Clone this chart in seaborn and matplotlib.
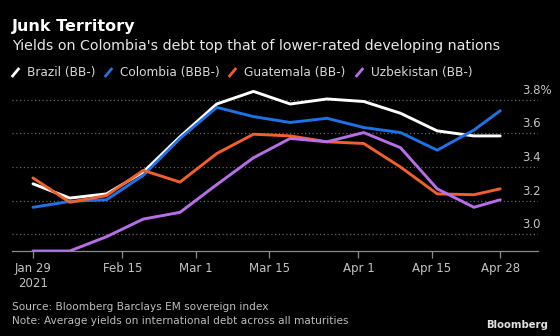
import matplotlib
matplotlib.use("Agg")
import matplotlib.pyplot as plt
from matplotlib.lines import Line2D
from matplotlib.transforms import ScaledTranslation
import seaborn as sns
import pandas as pd

dates = ["2021-01-29", "2021-02-05", "2021-02-12", "2021-02-19", "2021-02-26",
         "2021-03-05", "2021-03-12", "2021-03-19", "2021-03-26", "2021-04-02",
         "2021-04-09", "2021-04-16", "2021-04-23", "2021-04-28"]
brazil = [3.30, 3.215, 3.24, 3.37, 3.58, 3.775, 3.85, 3.775, 3.805, 3.79, 3.72, 3.615, 3.585, 3.585]
colombia = [3.16, 3.195, 3.205, 3.35, 3.57, 3.755, 3.70, 3.665, 3.69, 3.635, 3.605, 3.50, 3.62, 3.735]
guatemala = [3.335, 3.19, 3.23, 3.38, 3.31, 3.48, 3.595, 3.585, 3.55, 3.54, 3.40, 3.24, 3.235, 3.27]
uzbekistan = [2.90, 2.90, 2.985, 3.09, 3.13, 3.295, 3.455, 3.57, 3.55, 3.605, 3.515, 3.27, 3.16, 3.205]
series_names = ["Brazil (BB-)", "Colombia (BBB-)", "Guatemala (BB-)", "Uzbekistan (BB-)"]
colors = ["#ffffff", "#1f72e6", "#f0602c", "#b86ee8"]
xtick_dates = ["2021-01-29", "2021-02-15", "2021-03-01", "2021-03-15", "2021-04-01", "2021-04-15", "2021-04-28"]
xtick_labels = ["Jan 29\n2021", "Feb 15", "Mar 1", "Mar 15", "Apr 1", "Apr 15", "Apr 28"]
ytick_values = [3.0, 3.2, 3.4, 3.6, 3.8]
ytick_labels = ["3.0", "3.2", "3.4", "3.6", "3.8%"]

frames = []
for name, vals in zip(series_names, [brazil, colombia, guatemala, uzbekistan]):
    frames.append(pd.DataFrame({"date": pd.to_datetime(dates), "value": vals, "country": name}))
df = pd.concat(frames, ignore_index=True)
palette = dict(zip(series_names, colors))

sns.set_style("dark")
plt.rcParams["font.family"] = ["DejaVu Sans"]

W, H = 560, 336
fig = plt.figure(figsize=(W / 100, H / 100), dpi=100, facecolor="black")
ax = fig.add_axes([12 / W, 1 - 251 / H, 526 / W, (251 - 83) / H])
ax.set_facecolor("black")

sns.lineplot(data=df, x="date", y="value", hue="country", hue_order=series_names,
             palette=palette, legend=False, linewidth=2.1, ax=ax)

ax.set_xlim(pd.Timestamp("2021-01-29") - pd.Timedelta(days=4.0),
            pd.Timestamp("2021-04-28") + pd.Timedelta(days=7.2))
ax.set_ylim(2.9, 3.9)
ax.set_xlabel("")
ax.set_ylabel("")

ax.set_xticks(pd.to_datetime(xtick_dates))
ax.set_xticklabels(xtick_labels)
ax.set_yticks(ytick_values)
ax.set_yticklabels(ytick_labels)

ax.grid(False)
ax.yaxis.grid(True, color="#666666", linestyle=(0, (1, 2)), linewidth=0.9)
for s in ["top", "left", "right"]:
    ax.spines[s].set_visible(False)
ax.spines["bottom"].set_color("#8a8a8a")
ax.spines["bottom"].set_linewidth(0.9)

ax.tick_params(axis="x", length=5, width=0.9, color="#8a8a8a", labelcolor="#c4c4c4",
               labelsize=8.5, pad=3, bottom=True)
ax.tick_params(axis="y", length=0, labelleft=False, labelright=True, labelcolor="#c4c4c4",
               labelsize=8.5, pad=0)
offset = ScaledTranslation(-16 / 100, 11 / 100, fig.dpi_scale_trans)
for lab in ax.get_yticklabels():
    lab.set_transform(lab.get_transform() + offset)
    lab.set_horizontalalignment("left")

fig.text(12 / W, 1 - 27 / H, "Junk Territory", color="white", fontsize=11.5,
         fontweight="bold", va="center", ha="left")
fig.text(12 / W, 1 - 46 / H, "Yields on Colombia's debt top that of lower-rated developing nations",
         color="#e8e8e8", fontsize=10.3, va="center", ha="left")

handles = [Line2D([], [], color=c, linestyle="None", marker=[(-1, -1.2), (1, 1.2)],
                  markersize=6.5, markeredgewidth=2, markeredgecolor=c) for c in colors]
fig.legend(handles, series_names, loc="center left", bbox_to_anchor=(11 / W, 1 - 72.5 / H),
           ncol=4, frameon=False, handlelength=0.6, handletextpad=0.7, columnspacing=0.75,
           fontsize=8.7, labelcolor="#d8d8d8", borderaxespad=0, borderpad=0)

fig.text(12 / W, 1 - 307.5 / H, "Source: Bloomberg Barclays EM sovereign index",
         color="#bdbdbd", fontsize=7.6, va="center", ha="left")
fig.text(12 / W, 1 - 320.5 / H, "Note: Average yields on international debt across all maturities",
         color="#bdbdbd", fontsize=7.6, va="center", ha="left")
fig.text(548 / W, 1 - 325.5 / H, "Bloomberg", color="#e0e0e0", fontsize=7.3,
         fontweight="bold", va="center", ha="right")

fig.savefig("out.png", dpi=100, facecolor="black")
